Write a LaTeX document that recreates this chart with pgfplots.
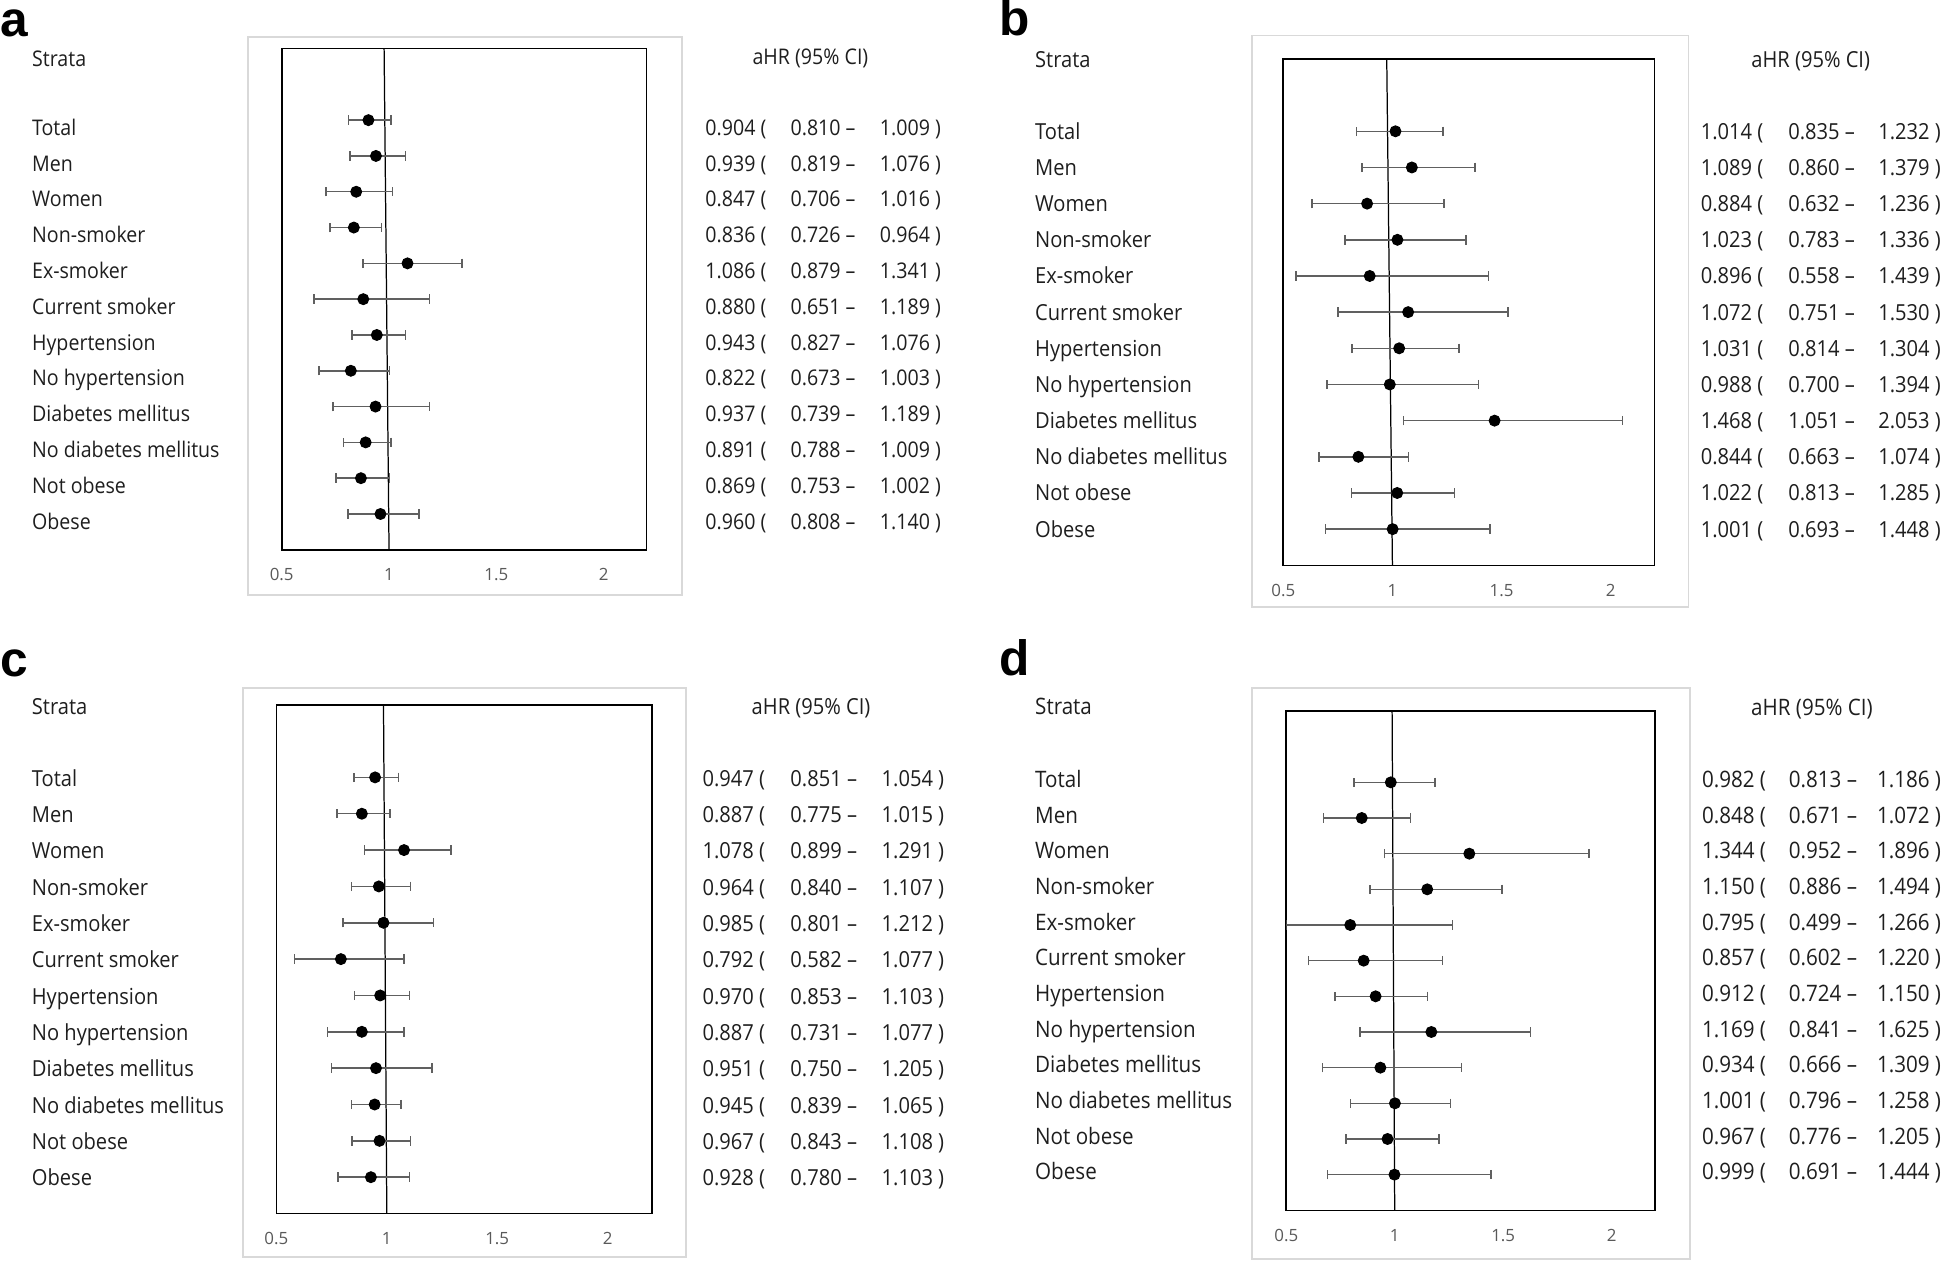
\documentclass[border=0pt]{standalone}
\usepackage{pgfplots}
\pgfplotsset{compat=1.18}
\usepackage{pgfplotstable}
\usepackage{graphicx}
\usepackage{fontspec}
\setmainfont{Open Sans}
\newfontfamily\labfont{Liberation Sans}

\definecolor{boxgray}{HTML}{D9D9D9}
\definecolor{ebgray}{HTML}{606060}
\definecolor{tickgray}{HTML}{595959}
\definecolor{txtcol}{HTML}{1E1E1E}

\pgfplotstableread[col sep=comma]{
row,hr,lo,hi
0,0.904,0.810,1.009
1,0.939,0.819,1.076
2,0.847,0.706,1.016
3,0.836,0.726,0.964
4,1.086,0.879,1.341
5,0.880,0.651,1.189
6,0.943,0.827,1.076
7,0.822,0.673,1.003
8,0.937,0.739,1.189
9,0.891,0.788,1.009
10,0.869,0.753,1.002
11,0.960,0.808,1.140
}\tabA

\pgfplotstableread[col sep=comma]{
row,hr,lo,hi
0,1.014,0.835,1.232
1,1.089,0.860,1.379
2,0.884,0.632,1.236
3,1.023,0.783,1.336
4,0.896,0.558,1.439
5,1.072,0.751,1.530
6,1.031,0.814,1.304
7,0.988,0.700,1.394
8,1.468,1.051,2.053
9,0.844,0.663,1.074
10,1.022,0.813,1.285
11,1.001,0.693,1.448
}\tabB

\pgfplotstableread[col sep=comma]{
row,hr,lo,hi
0,0.947,0.851,1.054
1,0.887,0.775,1.015
2,1.078,0.899,1.291
3,0.964,0.840,1.107
4,0.985,0.801,1.212
5,0.792,0.582,1.077
6,0.970,0.853,1.103
7,0.887,0.731,1.077
8,0.951,0.750,1.205
9,0.945,0.839,1.065
10,0.967,0.843,1.108
11,0.928,0.780,1.103
}\tabC

\pgfplotstableread[col sep=comma]{
row,hr,lo,hi
0,0.982,0.813,1.186
1,0.848,0.671,1.072
2,1.344,0.952,1.896
3,1.150,0.886,1.494
4,0.795,0.499,1.266
5,0.857,0.602,1.220
6,0.912,0.724,1.150
7,1.169,0.841,1.625
8,0.934,0.666,1.309
9,1.001,0.796,1.258
10,0.967,0.776,1.205
11,0.999,0.691,1.444
}\tabD

\def\stratalist{Total,Men,Women,Non-smoker,Ex-smoker,Current smoker,Hypertension,No hypertension,Diabetes mellitus,No diabetes mellitus,Not obese,Obese}

\newcommand\st[1]{\scalebox{1}[1.1]{#1}}

\tikzset{txt/.style={anchor=base west, inner sep=0pt, text=txtcol}}

% #1 table, #2 strata x, #3 col1 x, #4 col2 x, #5 col3 x, #6 y of row 0 centre, #7 row spacing, #8 font size
\newcommand\rowtext[8]{%
  \foreach \lab [count=\i from 0] in \stratalist {%
    \pgfmathsetmacro\yy{#6+\i*#7+0.785*#8}%
    \pgfplotstablegetelem{\i}{hr}\of{#1}\let\vhr\pgfplotsretval
    \pgfplotstablegetelem{\i}{lo}\of{#1}\let\vlo\pgfplotsretval
    \pgfplotstablegetelem{\i}{hi}\of{#1}\let\vhi\pgfplotsretval
    \node[txt, font=\fontsize{#8}{#8}\selectfont] at (#2,\yy) {\st{\lab}};
    \node[txt, font=\fontsize{#8}{#8}\selectfont] at (#3,\yy) {\st{\vhr\ (}};
    \node[txt, font=\fontsize{#8}{#8}\selectfont] at (#4,\yy) {\st{\vlo\ \textendash}};
    \node[txt, font=\fontsize{#8}{#8}\selectfont] at (#5,\yy) {\st{\vhi\ )}};
  }%
}

\pgfplotsset{forest/.style={
  scale only axis, anchor=north west,
  xmin=0.5, xmax=2.2, ymin=-2, ymax=12, y dir=reverse,
  xtick={0.5,1,1.5,2}, xticklabels={0.5,1,1.5,2},
  ytick=\empty, major tick length=0pt,
  axis line style={black, line width=0.65pt},
  xticklabel style={font=\fontsize{6.8}{7}\selectfont, text=tickgray, anchor=center, yshift=-10pt, inner sep=0pt},
}}
\pgfplotsset{ebar/.style={
  only marks, mark=*, mark size=2.2pt, black,
  error bars/.cd, x dir=both, x explicit,
  error bar style={ebgray, line width=0.6pt},
  error mark options={ebgray, line width=0.6pt, mark size=1.9pt, rotate=90},
}}

\begin{document}
\begin{tikzpicture}
\begin{scope}[x=0.5pt,y=-0.5pt]
\useasboundingbox (0,0) rectangle (1568,1017);

% light frames
\draw[boxgray, line width=0.7pt] (200,29.8) rectangle (549.7,479.5);
\draw[boxgray, line width=0.7pt] (1008.6,28.7) rectangle (1360.4,488.8);
\draw[boxgray, line width=0.7pt] (195.8,554.3) rectangle (552.6,1013);
\draw[boxgray, line width=0.7pt] (1008.6,554.3) rectangle (1361.8,1014.4);

% panel letters
\node[anchor=base west, inner sep=0pt, font=\labfont\bfseries\fontsize{20}{20}\selectfont] at (0,29.5) {a};
\node[anchor=base west, inner sep=0pt, font=\labfont\bfseries\fontsize{20}{20}\selectfont] at (805,29) {b};
\node[anchor=base west, inner sep=0pt, font=\labfont\bfseries\fontsize{20}{20}\selectfont] at (0,545) {c};
\node[anchor=base west, inner sep=0pt, font=\labfont\bfseries\fontsize{20}{20}\selectfont] at (805,544) {d};

% panel a text
\node[txt, font=\fontsize{7.9}{7.9}\selectfont] at (25.5,{47+0.785*7.9}) {\st{Strata}};
\node[txt, anchor=base, font=\fontsize{7.9}{7.9}\selectfont] at (653,{45.7+0.785*7.9}) {\st{aHR (95\% CI)}};
\rowtext{\tabA}{25.5}{568}{636.6}{708.6}{102.8}{28.85}{7.9}

% panel b text
\node[txt, font=\fontsize{8.1}{8.1}\selectfont] at (833.7,{47.8+0.785*8.1}) {\st{Strata}};
\node[txt, anchor=base, font=\fontsize{8.1}{8.1}\selectfont] at (1459,{47.8+0.785*8.1}) {\st{aHR (95\% CI)}};
\rowtext{\tabB}{833.7}{1370}{1440.5}{1513}{105.8}{29.14}{8.1}

% panel c text
\node[txt, font=\fontsize{8.1}{8.1}\selectfont] at (25.3,{569.7+0.785*8.1}) {\st{Strata}};
\node[txt, anchor=base, font=\fontsize{8.1}{8.1}\selectfont] at (653.5,{569.7+0.785*8.1}) {\st{aHR (95\% CI)}};
\rowtext{\tabC}{25.3}{565.7}{636.5}{710}{627}{29.28}{8.1}

% panel d text
\node[txt, font=\fontsize{8.3}{8.3}\selectfont] at (833.7,{569+0.785*8.3}) {\st{Strata}};
\node[txt, anchor=base, font=\fontsize{8.3}{8.3}\selectfont] at (1460,{570+0.785*8.3}) {\st{aHR (95\% CI)}};
\rowtext{\tabD}{833.7}{1371}{1441}{1512}{627.9}{28.74}{8.3}
\end{scope}

% ---------- panel a ----------
\begin{axis}[forest, at={(113.5pt,-19.55pt)}, width=147pt, height=201.95pt]
\addplot[black, line width=0.5pt, mark=none] coordinates {(0.977,-2) (1,12)};
\addplot[ebar] table[x=hr, y=row, x error plus expr=\thisrow{hi}-\thisrow{hr}, x error minus expr=\thisrow{hr}-\thisrow{lo}] {\tabA};
\end{axis}

% ---------- panel b ----------
\begin{axis}[forest, at={(517pt,-23.75pt)}, width=149.5pt, height=204pt]
\addplot[black, line width=0.5pt, mark=none] coordinates {(0.974,-2) (1,12)};
\addplot[ebar] table[x=hr, y=row, x error plus expr=\thisrow{hi}-\thisrow{hr}, x error minus expr=\thisrow{hr}-\thisrow{lo}] {\tabB};
\end{axis}

% ---------- panel c ----------
\begin{axis}[forest, at={(111.35pt,-283.9pt)}, width=151.25pt, height=205pt]
\addplot[black, line width=0.5pt, mark=none] coordinates {(0.985,-2) (1,12)};
\addplot[ebar] table[x=hr, y=row, x error plus expr=\thisrow{hi}-\thisrow{hr}, x error minus expr=\thisrow{hr}-\thisrow{lo}] {\tabC};
\end{axis}

% ---------- panel d ----------
\begin{axis}[forest, at={(518.2pt,-286.45pt)}, width=148.55pt, height=201.15pt]
\addplot[black, line width=0.5pt, mark=none] coordinates {(0.988,-2) (1,12)};
\addplot[ebar] table[x=hr, y=row, x error plus expr=\thisrow{hi}-\thisrow{hr}, x error minus expr=\thisrow{hr}-\thisrow{lo}] {\tabD};
\end{axis}

\end{tikzpicture}
\end{document}
